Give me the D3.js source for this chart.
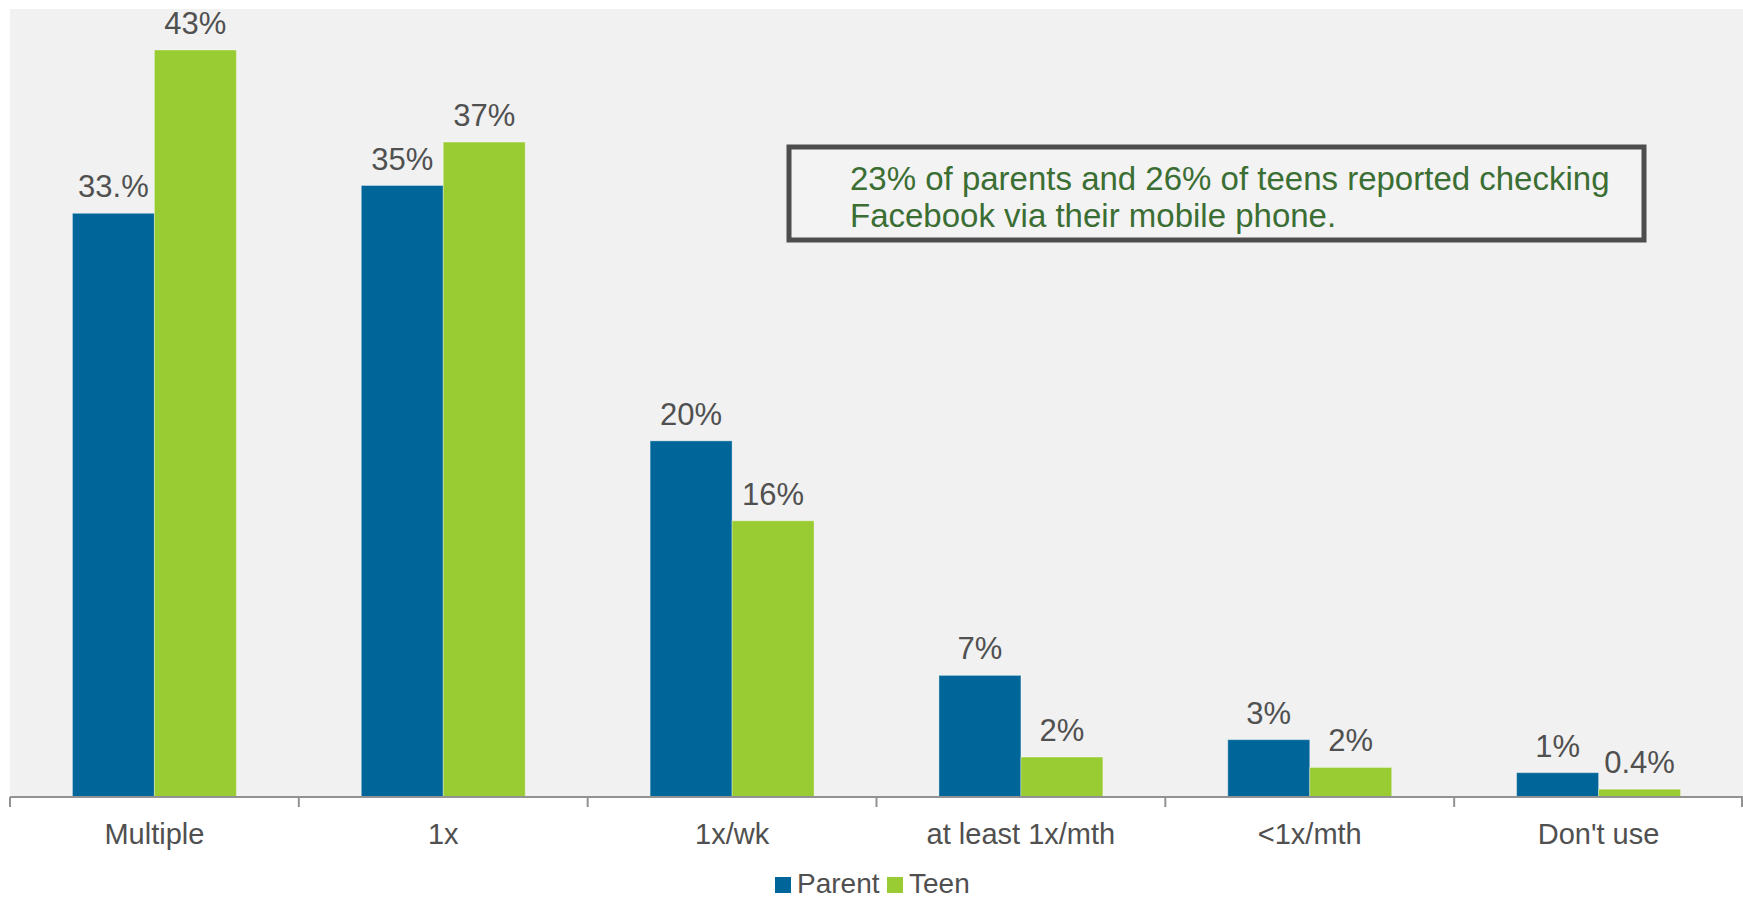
<!DOCTYPE html>
<html>
<head>
<meta charset="utf-8">
<script src="https://cdn.jsdelivr.net/npm/d3@7"></script>
<style>
  body { margin: 0; background: #fff; }
  svg { display: block; font-family: "Liberation Sans", Arial, Helvetica, sans-serif; }
</style>
</head>
<body>
<svg id="chart"></svg>
<script>
// data
const categories = ["Multiple", "1x", "1x/wk", "at least 1x/mth", "<1x/mth", "Don't use"];
const seriesNames = ["Parent", "Teen"];
const parentValues = [33.6, 35.2, 20.5, 7.0, 3.3, 1.4];
const teenValues = [43.0, 37.7, 15.9, 2.3, 1.7, 0.45];
const parentLabels = ["33.%", "35%", "20%", "7%", "3%", "1%"];
const teenLabels = ["43%", "37%", "16%", "2%", "2%", "0.4%"];
const noteLines = ["23% of parents and 26% of teens reported checking", "Facebook via their mobile phone."];

const width = 1743, height = 900;
const margin = { top: 9, right: 0, bottom: 103, left: 10 };
const colors = { Parent: "#006699", Teen: "#99cb33" };

const svg = d3.select("#chart").attr("width", width).attr("height", height);

const rows = categories.map((c, i) => ({
    cat: c,
    vals: [
        { key: "Parent", v: parentValues[i], label: parentLabels[i] },
        { key: "Teen", v: teenValues[i], label: teenLabels[i] }
    ]
}));

const x0 = d3.scaleBand().domain(categories).range([margin.left, width - margin.right]).padding(0);
const x1 = d3.scaleBand().domain(seriesNames).range([0, x0.bandwidth()]).paddingInner(0).paddingOuter(0.762);
const y = d3.scaleLinear().domain([0, 45.36]).range([height - margin.bottom, margin.top]);

// plot background
svg.append("rect")
    .attr("x", margin.left)
    .attr("y", margin.top)
    .attr("width", width - margin.left - margin.right)
    .attr("height", y(0) - margin.top)
    .attr("fill", "#f1f1f1");

const groups = svg.append("g").selectAll("g")
    .data(rows)
    .join("g")
    .attr("transform", d => `translate(${x0(d.cat)},0)`);

groups.selectAll("rect")
    .data(d => d.vals)
    .join("rect")
    .attr("x", d => x1(d.key))
    .attr("y", d => y(d.v))
    .attr("width", x1.bandwidth())
    .attr("height", d => y(0) - y(d.v))
    .attr("fill", d => colors[d.key])
    .attr("stroke", "rgba(255,255,255,0.35)")
    .attr("stroke-width", 1);

groups.selectAll("text")
    .data(d => d.vals)
    .join("text")
    .attr("x", d => x1(d.key) + x1.bandwidth() / 2)
    .attr("y", d => y(d.v) - 16)
    .attr("text-anchor", "middle")
    .attr("font-size", 31)
    .attr("fill", "#505050")
    .text(d => d.label);

// x axis: ticks at the category boundaries
const xAxis = svg.append("g").attr("transform", `translate(0,${y(0)})`);
xAxis.append("line")
    .attr("x1", margin.left).attr("x2", width)
    .attr("stroke", "#929292").attr("stroke-width", 2);
const bounds = categories.map(c => x0(c)).concat([x0.range()[1] - 1]);
xAxis.selectAll("line.tick")
    .data(bounds)
    .join("line")
    .attr("class", "tick")
    .attr("x1", d => d).attr("x2", d => d)
    .attr("y1", 0).attr("y2", 10)
    .attr("stroke", "#929292").attr("stroke-width", 2);
xAxis.selectAll("text")
    .data(categories)
    .join("text")
    .attr("x", d => x0(d) + x0.bandwidth() / 2)
    .attr("y", 47)
    .attr("text-anchor", "middle")
    .attr("font-size", 29)
    .attr("fill", "#505050")
    .text(d => d);

// annotation box
const note = svg.append("g");
note.append("rect")
    .attr("x", 789).attr("y", 147)
    .attr("width", 855).attr("height", 93)
    .attr("fill", "#f3f3f3")
    .attr("stroke", "#4d4d4d")
    .attr("stroke-width", 5);
note.selectAll("text")
    .data(noteLines)
    .join("text")
    .attr("x", 850)
    .attr("y", (d, i) => 190 + i * 37)
    .attr("font-size", 33)
    .attr("fill", "#3b6e33")
    .text(d => d);

// legend
const legend = svg.append("g").attr("transform", "translate(775,877)");
const items = legend.selectAll("g")
    .data(seriesNames)
    .join("g")
    .attr("transform", (d, i) => `translate(${i * 112},0)`);
items.append("rect")
    .attr("width", 16).attr("height", 16)
    .attr("fill", d => colors[d]);
items.append("text")
    .attr("x", 22).attr("y", 16)
    .attr("font-size", 28)
    .attr("fill", "#505050")
    .text(d => d);
</script>
</body>
</html>
